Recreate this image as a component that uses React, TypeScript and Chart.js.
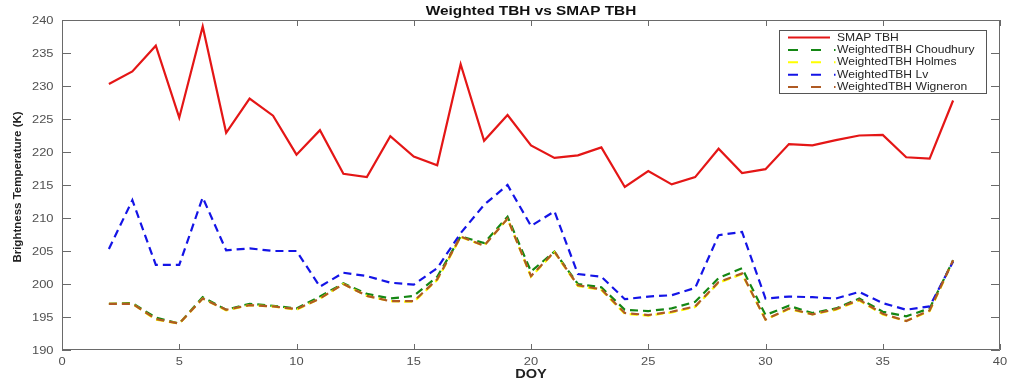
import React, { useEffect, useRef } from "react";
import { Chart, registerables } from "chart.js";

Chart.register(...registerables);

const doy = [2, 3, 4, 5, 6, 7, 8, 9, 10, 11, 12, 13, 14, 15, 16, 17, 18, 19, 20, 21, 22, 23, 24, 25, 26, 27, 28, 29, 30, 31, 32, 33, 34, 35, 36, 37, 38];

const smapTBH = [230.3, 232.2, 236.1, 225.2, 239.0, 222.9, 228.1, 225.5, 219.6, 223.3, 216.7, 216.2, 222.4, 219.3, 218.0, 233.3, 221.7, 225.6, 221.0, 219.1, 219.5, 220.7, 214.7, 217.1, 215.1, 216.2, 220.5, 216.8, 217.4, 221.2, 221.0, 221.8, 222.5, 222.6, 219.2, 219.0, 227.8];

const choudhury = [197.0, 197.1, 194.9, 194.0, 198.0, 196.1, 197.0, 196.7, 196.3, 198.1, 200.1, 198.5, 197.8, 198.2, 201.1, 207.2, 206.2, 210.2, 201.9, 204.9, 200.0, 199.5, 196.1, 195.9, 196.3, 197.3, 200.9, 202.4, 195.3, 196.7, 195.6, 196.3, 197.8, 195.8, 195.1, 196.3, 203.6];

const holmes = [197.0, 197.0, 194.6, 194.0, 197.8, 196.0, 196.8, 196.6, 196.1, 197.8, 200.0, 198.2, 197.4, 197.3, 200.6, 207.1, 205.8, 209.9, 201.1, 204.8, 199.7, 199.1, 195.5, 195.2, 195.7, 196.5, 200.2, 201.5, 194.6, 196.2, 195.4, 196.1, 197.5, 195.4, 194.4, 195.9, 203.5];

const lv = [205.3, 212.7, 202.9, 202.9, 213.1, 205.1, 205.4, 205.0, 205.0, 199.6, 201.7, 201.2, 200.2, 199.9, 202.4, 207.7, 212.0, 215.0, 208.8, 211.0, 201.5, 201.1, 197.7, 198.1, 198.3, 199.4, 207.4, 207.9, 197.8, 198.1, 198.0, 197.8, 198.8, 197.1, 196.1, 196.6, 203.4];

const wigneron = [197.0, 197.0, 194.7, 194.0, 197.8, 196.1, 196.8, 196.6, 196.2, 197.8, 200.0, 198.2, 197.4, 197.4, 200.7, 207.2, 205.8, 209.9, 201.2, 204.9, 199.8, 199.2, 195.6, 195.3, 195.8, 196.6, 200.3, 201.6, 194.6, 196.3, 195.4, 196.2, 197.6, 195.5, 194.4, 196.0, 203.6];

const titleText = "Weighted TBH vs SMAP TBH";
const xTitle = "DOY";
const yTitle = "Brightness Temperature (K)";

const seriesNames = ["SMAP TBH", "WeightedTBH Choudhury", "WeightedTBH Holmes", "WeightedTBH Lv", "WeightedTBH Wigneron"];
const seriesValues = [smapTBH, choudhury, holmes, lv, wigneron];
const seriesColors = ["rgb(228,22,22)", "rgb(20,135,20)", "rgb(255,255,0)", "rgb(20,20,230)", "rgb(175,90,35)"];
const seriesDashed = [false, true, true, true, true];
const seriesOrder = [5, 4, 3, 2, 1];

const FONT = "'Liberation Sans', Arial, Helvetica, sans-serif";
const AXIS_COLOR = "#6a6a6a";
const TICK_COLOR = "#505050";
const DASH = [8, 5];

function drawText(
  ctx: CanvasRenderingContext2D,
  text: string,
  x: number,
  y: number,
  font: string,
  color: string,
  align: CanvasTextAlign,
  sx: number,
  rot = 0
) {
  ctx.save();
  ctx.translate(x, y);
  if (rot) ctx.rotate(rot);
  ctx.scale(sx, 1);
  ctx.font = font;
  ctx.fillStyle = color;
  ctx.textAlign = align;
  ctx.textBaseline = "middle";
  ctx.fillText(text, 0, 0);
  ctx.restore();
}

const matlabPlugin = {
  id: "matlabLook",
  afterDatasetsDraw(chart: any) {
    const { ctx, chartArea, scales } = chart;
    const { left, right, top, bottom } = chartArea;
    ctx.save();
    ctx.strokeStyle = AXIS_COLOR;
    ctx.lineWidth = 1;
    ctx.beginPath();
    ctx.rect(left + 0.5, top + 0.5, right - left - 1, bottom - top - 1);
    ctx.stroke();
    ctx.beginPath();
    scales.x.ticks.forEach((t: any) => {
      const px = Math.round(scales.x.getPixelForValue(t.value)) + 0.5;
      ctx.moveTo(px, bottom);
      ctx.lineTo(px, bottom - 6);
      ctx.moveTo(px, top);
      ctx.lineTo(px, top + 6);
    });
    scales.y.ticks.forEach((t: any) => {
      const py = Math.round(scales.y.getPixelForValue(t.value)) + 0.5;
      ctx.moveTo(left, py);
      ctx.lineTo(left + 9, py);
      ctx.moveTo(right, py);
      ctx.lineTo(right - 9, py);
    });
    ctx.stroke();
    ctx.restore();

    const tickFont = `11.5px ${FONT}`;
    scales.x.ticks.forEach((t: any) => {
      const px = scales.x.getPixelForValue(t.value);
      drawText(ctx, String(t.label), px, bottom + 12, tickFont, TICK_COLOR, "center", 1.12);
    });
    scales.y.ticks.forEach((t: any) => {
      const py = scales.y.getPixelForValue(t.value);
      drawText(ctx, String(t.label), left - 8.5, py + 0.5, tickFont, TICK_COLOR, "right", 1.12);
    });

    const cx = (left + right) / 2;
    drawText(ctx, titleText, cx, 11.7, `bold 12px ${FONT}`, "#111111", "center", 1.28);
    drawText(ctx, xTitle, cx, bottom + 25, `bold 12px ${FONT}`, "#222222", "center", 1.22);
    drawText(ctx, yTitle, 17.5, (top + bottom) / 2 + 2, `bold 11.5px ${FONT}`, "#222222", "center", 1.0, -Math.PI / 2);
  },
  afterDraw(chart: any) {
    const { ctx, chartArea } = chart;
    const bx = chartArea.right - 221;
    const by = chartArea.top + 10;
    const bw = 207;
    const bh = 63;
    ctx.save();
    ctx.fillStyle = "#ffffff";
    ctx.fillRect(bx, by, bw, bh);
    ctx.strokeStyle = "#555555";
    ctx.lineWidth = 1;
    ctx.strokeRect(bx + 0.5, by + 0.5, bw, bh);
    seriesNames.forEach((name, i) => {
      const y = by + 7.5 + i * 12.4;
      ctx.strokeStyle = seriesColors[i];
      ctx.lineWidth = 2;
      ctx.setLineDash(seriesDashed[i] ? [10, 13] : []);
      ctx.beginPath();
      ctx.moveTo(bx + 9, y);
      ctx.lineTo(bx + (seriesDashed[i] ? 56.5 : 51), y);
      ctx.stroke();
      ctx.setLineDash([]);
      drawText(ctx, name, bx + 58, y, `11px ${FONT}`, "#262626", "left", 1.1);
    });
    ctx.restore();
  },
};

export default function App() {
  const canvasRef = useRef<HTMLCanvasElement | null>(null);

  useEffect(() => {
    document.body.style.margin = "0";
    const canvas = canvasRef.current;
    if (!canvas) return;
    const datasets = seriesNames.map((name, i) => ({
      label: name,
      data: doy.map((d, j) => ({ x: d, y: seriesValues[i][j] })),
      borderColor: seriesColors[i],
      backgroundColor: seriesColors[i],
      borderWidth: 2.2,
      borderDash: seriesDashed[i] ? DASH : [],
      pointRadius: 0,
      tension: 0,
      fill: false,
      order: seriesOrder[i],
    }));
    const chart = new Chart(canvas, {
      type: "line",
      data: { datasets },
      options: {
        animation: false,
        responsive: false,
        maintainAspectRatio: false,
        layout: { padding: { top: 20, right: 12, bottom: 0, left: 0 } },
        plugins: {
          legend: { display: false },
          tooltip: { enabled: false },
          title: { display: false },
        },
        scales: {
          x: {
            type: "linear",
            min: 0,
            max: 40,
            grid: { display: false, drawTicks: false },
            border: { display: false },
            ticks: { stepSize: 5, display: false },
            afterFit(scale: any) {
              scale.height = 35;
            },
          },
          y: {
            type: "linear",
            min: 190,
            max: 240,
            grid: { display: false, drawTicks: false },
            border: { display: false },
            ticks: { stepSize: 5, display: false },
            afterFit(scale: any) {
              scale.width = 62;
            },
          },
        },
      },
      plugins: [matlabPlugin],
    });
    return () => chart.destroy();
  }, []);

  return (
    <div style={{ width: 1012, height: 385, background: "#ffffff" }}>
      <canvas ref={canvasRef} width={1012} height={385} style={{ display: "block" }} />
    </div>
  );
}
